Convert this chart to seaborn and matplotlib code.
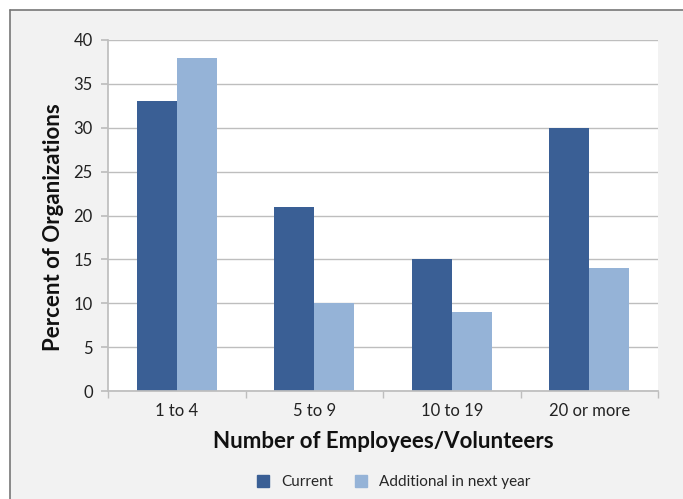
import matplotlib
matplotlib.use("Agg")
import matplotlib.pyplot as plt
import seaborn as sns
import pandas as pd
from matplotlib.lines import Line2D
from matplotlib.patches import Rectangle

categories = ["1 to 4", "5 to 9", "10 to 19", "20 or more"]
current = [33, 21, 15, 30]
additional = [38, 10, 9, 14]
series_names = ["Current", "Additional in next year"]
colors = ["#3A5F95", "#95B3D7"]

df = pd.DataFrame({
    "cat": categories * 2,
    "val": current + additional,
    "series": [series_names[0]] * 4 + [series_names[1]] * 4,
})

sns.set_theme(style="white")
plt.rcParams["font.family"] = ["Lato", "DejaVu Sans"]

fig = plt.figure(figsize=(6.83, 4.99), dpi=100, facecolor="white")
fig.add_artist(Rectangle((10/683, 0), 1, 1 - 10/499, transform=fig.transFigure,
                         facecolor="#F2F2F2", edgecolor="none", zorder=-10))
ax = fig.add_axes([108/683, 1 - 391/499, (658-108)/683, (391-40)/499])
ax.set_facecolor("white")

sns.barplot(data=df, x="cat", y="val", hue="series", palette=colors,
            width=0.58, gap=0, saturation=1, ax=ax, legend=False, linewidth=0)

ax.set_ylim(0, 40)
ax.set_yticks(range(0, 41, 5))
ax.set_xlim(-0.5, 3.5)
ax.yaxis.grid(True, color="#BEBEBE", linewidth=1)
ax.set_axisbelow(True)
for s in ["top", "right"]:
    ax.spines[s].set_visible(False)
ax.spines["left"].set_color("#BEBEBE")
ax.spines["bottom"].set_color("#BEBEBE")
ax.tick_params(axis="y", left=True, length=5, color="#BEBEBE", labelsize=12, labelcolor="#222222", pad=6)
ax.tick_params(axis="x", bottom=False, labelsize=12, labelcolor="#222222", pad=3)
ax.set_xticks([0, 1, 2, 3])
ax.set_xticklabels(categories)
ax.set_xticks([-0.5, 0.5, 1.5, 2.5, 3.5], minor=True)
ax.tick_params(axis="x", which="minor", bottom=True, length=5, color="#BEBEBE")

ax.set_xlabel("Number of Employees/Volunteers", fontsize=16, fontweight="bold", color="#111111", labelpad=8)
ax.set_ylabel("Percent of Organizations", fontsize=16, fontweight="bold", color="#111111")
ax.yaxis.set_label_coords(-0.080, 0.467)

handles = [Line2D([], [], marker="s", linestyle="none", markersize=8, color=c) for c in colors]
fig.legend(handles, series_names, loc="center", bbox_to_anchor=(389/683, 1 - 482/499),
           ncol=2, frameon=False, fontsize=11, handletextpad=0.2, columnspacing=0.8)

fig.add_artist(Line2D([10/683, 10/683], [0, 1 - 10/499], transform=fig.transFigure, color="#777777", linewidth=1.2))
fig.add_artist(Line2D([10/683, 1], [1 - 10/499, 1 - 10/499], transform=fig.transFigure, color="#777777", linewidth=1.2))

fig.savefig("out.png", dpi=100, facecolor=fig.get_facecolor())
